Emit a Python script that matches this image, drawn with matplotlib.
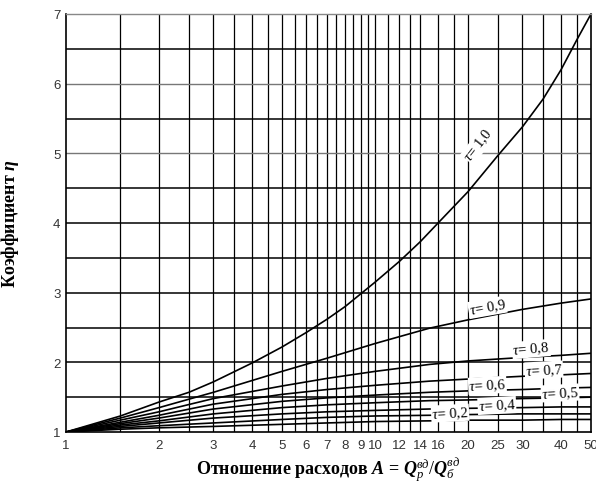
import matplotlib
matplotlib.use("Agg")
import matplotlib.pyplot as plt

# Шрифты: Times-подобный для подписей, Arial-подобный для цифр
plt.rcParams['font.family'] = ['Liberation Serif', 'DejaVu Serif']
plt.rcParams['mathtext.fontset'] = 'custom'
plt.rcParams['mathtext.rm'] = 'Liberation Serif'
plt.rcParams['mathtext.it'] = 'Liberation Serif:italic'
plt.rcParams['mathtext.bf'] = 'Liberation Serif:bold'
plt.rcParams['mathtext.bfit'] = 'Liberation Serif:italic:bold'

# Данные
A_tau10 = [1, 1.5, 2, 2.5, 3, 4, 5, 6, 7, 8, 10, 12, 14, 16, 20, 25, 30, 35, 40, 45, 50]
eta_tau10 = [1.00, 1.23, 1.43, 1.57, 1.72, 1.99, 2.22, 2.43, 2.62, 2.80, 3.15, 3.45, 3.73,
             4.00, 4.45, 4.97, 5.38, 5.78, 6.20, 6.63, 7.00]

A_vals = [1, 1.5, 2, 3, 5, 7, 10, 15, 20, 30, 40, 50]
eta_tau09 = [1.00, 1.20, 1.35, 1.57, 1.87, 2.06, 2.27, 2.49, 2.61, 2.76, 2.85, 2.91]
eta_tau08 = [1.00, 1.17, 1.29, 1.48, 1.66, 1.77, 1.87, 1.97, 2.02, 2.07, 2.10, 2.13]
eta_tau07 = [1.00, 1.14, 1.24, 1.40, 1.54, 1.61, 1.67, 1.73, 1.76, 1.80, 1.82, 1.84]
eta_tau06 = [1.00, 1.12, 1.20, 1.33, 1.44, 1.49, 1.53, 1.57, 1.59, 1.61, 1.63, 1.64]
eta_tau05 = [1.00, 1.10, 1.16, 1.26, 1.35, 1.39, 1.42, 1.45, 1.46, 1.48, 1.49, 1.50]
eta_tau04 = [1.00, 1.08, 1.13, 1.20, 1.26, 1.29, 1.31, 1.33, 1.34, 1.35, 1.36, 1.36]
eta_tau03 = [1.00, 1.06, 1.09, 1.13, 1.18, 1.21, 1.23, 1.24, 1.25, 1.26, 1.26, 1.26]
eta_tau02 = [1.00, 1.04, 1.06, 1.08, 1.11, 1.13, 1.15, 1.16, 1.17, 1.17, 1.18, 1.18]

# Подписи кривых: текст, положение (A, eta), угол
label_texts = ["1,0", "0,9", "0,8", "0,7", "0,6", "0,5", "0,4", "0,2"]
label_A = [21.6, 23.1, 32.0, 35.2, 23.1, 39.7, 24.8, 17.5]
label_eta = [5.12, 2.79, 2.19, 1.89, 1.67, 1.56, 1.38, 1.27]
label_rot = [52, 10, 5, 3, 3, 3, 3, 3]

x_ticks = [1, 2, 3, 4, 5, 6, 7, 8, 9, 10, 12, 14, 16, 20, 25, 30, 40, 50]
x_grid = [1.5, 2, 2.5, 3, 3.5, 4, 4.5, 5, 5.5, 6, 6.5, 7, 7.5, 8, 8.5, 9, 9.5, 10,
          11, 12, 13, 14, 16, 18, 20, 25, 30, 35, 40, 45]
y_ticks = [1, 2, 3, 4, 5, 6, 7]
y_grid = [1.5, 2, 2.5, 3, 3.5, 4, 4.5, 5, 5.5, 6, 6.5]

fig = plt.figure(figsize=(5.96, 4.89), dpi=100)
ax = fig.add_axes([66 / 596, 1 - 433 / 489, 525 / 596, 418 / 489])

ax.set_xscale('log')
ax.set_xlim(1, 50)
ax.set_ylim(1, 7)

# Сетка вручную (как на скане)
for xg in x_grid:
    ax.axvline(xg, color='black', linewidth=0.9, zorder=1)
for yg in y_grid:
    if yg in (5, 6):
        ax.axhline(yg, color='#777777', linewidth=1.0, zorder=1)
    else:
        ax.axhline(yg, color='black', linewidth=1.1, zorder=1)

# Кривые
ax.plot(A_tau10, eta_tau10, color='black', linewidth=1.2, zorder=2)
for eta in [eta_tau09, eta_tau08, eta_tau07, eta_tau06, eta_tau05,
            eta_tau04, eta_tau03, eta_tau02]:
    ax.plot(A_vals, eta, color='black', linewidth=1.2, zorder=2)

# Подписи tau
for i in range(len(label_texts)):
    ax.text(label_A[i], label_eta[i], r"$\mathit{\tau}$= " + label_texts[i],
            fontsize=10.5, rotation=label_rot[i], ha='center', va='center',
            rotation_mode='anchor', zorder=3,
            bbox=dict(facecolor='white', edgecolor='none', pad=0.5))

# Оси и подписи
ax.set_xticks(x_ticks)
ax.set_xticklabels([str(v) for v in x_ticks])
ax.xaxis.set_minor_locator(matplotlib.ticker.NullLocator())
ax.set_yticks(y_ticks)
ax.set_yticklabels([str(v) for v in y_ticks])
ax.tick_params(axis='both', length=0, labelsize=9.5, labelcolor='#333333')
ax.tick_params(axis='x', pad=5)
ax.tick_params(axis='y', pad=4)
for lbl in ax.get_xticklabels() + ax.get_yticklabels():
    lbl.set_family('Liberation Sans')

for s in ['left', 'bottom', 'right']:
    ax.spines[s].set_color('black')
    ax.spines[s].set_linewidth(1.2)
ax.spines['top'].set_color('#888888')
ax.spines['top'].set_linewidth(1.0)

ax.set_xlabel(r"Отношение расходов $\mathbfit{A}$ = $\mathbfit{Q}_{\mathit{p}}^{\mathit{вд}}/\mathbfit{Q}_{\mathit{б}}^{\mathit{вд}}$",
              fontsize=13, fontweight='bold')
ax.set_ylabel(r"Коэффициент $\mathbfit{\eta}$", fontsize=13, fontweight='bold')
ax.xaxis.set_label_coords(0.5, -0.055)
ax.yaxis.set_label_coords(-0.085, 0.5)

fig.savefig("out.png", dpi=100)
